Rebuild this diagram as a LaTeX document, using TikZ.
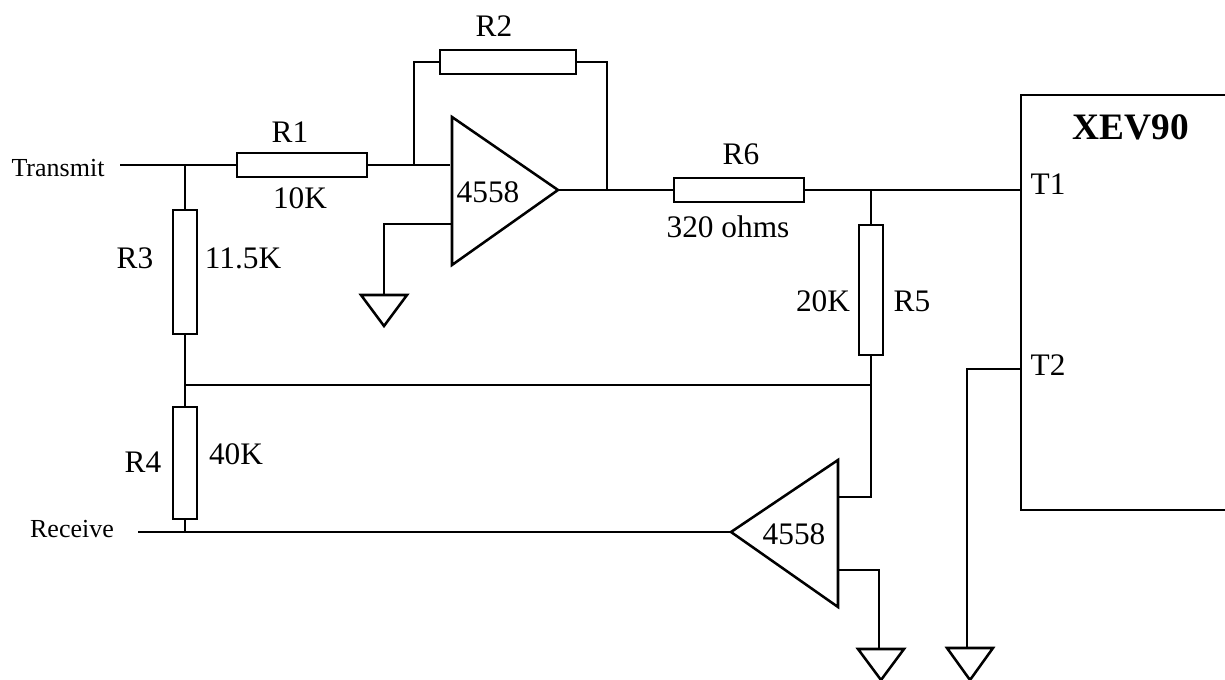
\documentclass[tikz,border=0pt]{standalone}
\usepackage{fontspec}
\setmainfont{Liberation Serif}
\begin{document}
\begin{tikzpicture}[x=0.75pt,y=-0.75pt,
  wire/.style={draw=black,line width=1.9pt},
  res/.style={draw=black,line width=1.9pt,fill=white,rectangle,inner sep=0pt},
  lab/.style={font=\fontsize{23.5pt}{25pt}\selectfont,inner sep=0pt,text=black},
  small/.style={font=\fontsize{19.5pt}{21pt}\selectfont,inner sep=0pt,text=black}]
\path[use as bounding box] (0,0) rectangle (1225,680);
% coordinates
\coordinate (tin) at (120,165);
\coordinate (j1) at (185,165);
\coordinate (j2) at (414,165);
\coordinate (ampa) at (450,165);
\coordinate (oa) at (558,190);
\coordinate (j3) at (607,190);
\coordinate (j4) at (871,190);
\coordinate (t1) at (1021,190);
\coordinate (j5) at (185,385);
\coordinate (j6) at (871,385);
\coordinate (j7) at (185,532);
\coordinate (rin) at (138,532);
\coordinate (ob) at (731,532);
% resistors
\node[res,minimum width=97.5pt,minimum height=18pt] (R1) at (302,165) {};
\node[res,minimum width=102pt,minimum height=18pt] (R2) at (508,62) {};
\node[res,minimum width=18pt,minimum height=93pt] (R3) at (185,272) {};
\node[res,minimum width=18pt,minimum height=84pt] (R4) at (185,463) {};
\node[res,minimum width=18pt,minimum height=97.5pt] (R5) at (871,290) {};
\node[res,minimum width=97.5pt,minimum height=18pt] (R6) at (739,190) {};
% wires
\draw[wire] (tin) -- (j1) -- (R1.west);
\draw[wire] (R1.east) -- (j2) -- (ampa);
\draw[wire] (j2) |- (R2.west);
\draw[wire] (R2.east) -| (j3);
\draw[wire] (oa) -- (j3) -- (R6.west);
\draw[wire] (R6.east) -- (j4) -- (t1);
\draw[wire] (j1) -- (R3.north);
\draw[wire] (R3.south) -- (j5) -- (R4.north);
\draw[wire] (R4.south) -- (j7);
\draw[wire] (j5) -- (j6);
\draw[wire] (j4) -- (R5.north);
\draw[wire] (R5.south) -- (j6);
\draw[wire] (rin) -- (j7) -- (ob);
% opamps
\draw[wire,line join=miter] (452,117) -- (oa) -- (452,265) -- cycle;
\draw[wire,line join=miter] (838,460) -- (ob) -- (838,607) -- cycle;
% opamp a ground
\coordinate (ga) at (384,295);
\draw[wire] (452,224) -- (384,224) -- (ga);
\draw[wire] (361,295) -- (407,295) -- (384,326) -- cycle;
% opamp b
\draw[wire] (j6) -- (871,497) -- (838,497);
\coordinate (gb) at (879,649);
\draw[wire] (838,570) -- (879,570) -- (gb);
\draw[wire] (858,649) -- (904,649) -- (881,680) -- cycle;
% T2
\coordinate (gc) at (967,647);
\draw[wire] (1021,369) -- (967,369) -- (gc);
\draw[wire] (947,648) -- (993,648) -- (970,680) -- cycle;
% box
\draw[wire] (1225,95) -- (1021,95) -- (1021,510) -- (1225,510);
% labels
\node[small] (tx) at (58,168) {Transmit};
\node[small] (rx) at (72,529) {Receive};
\node[lab] (l1) at (290,132) {R1};
\node[lab] (l2) at (300,198) {10K};
\node[lab] (l3) at (494,26) {R2};
\node[lab] (l4) at (135,258) {R3};
\node[lab] (l5) at (243,258) {11.5K};
\node[lab] (l6) at (143,462) {R4};
\node[lab] (l7) at (236,454) {40K};
\node[lab] (l8) at (488,192) {4558};
\node[lab] (l9) at (794,534) {4558};
\node[lab] (l10) at (741,154) {R6};
\node[lab] (l11) at (728,227) {320 ohms};
\node[lab] (l12) at (823,301) {20K};
\node[lab] (l13) at (912,301) {R5};
\node[lab] (l14) at (1048,184) {T1};
\node[lab] (l15) at (1048,365) {T2};
\node[font=\fontsize{28pt}{30pt}\selectfont\bfseries,inner sep=0pt] (l16) at (1131,127) {XEV90};
\end{tikzpicture}
\end{document}
